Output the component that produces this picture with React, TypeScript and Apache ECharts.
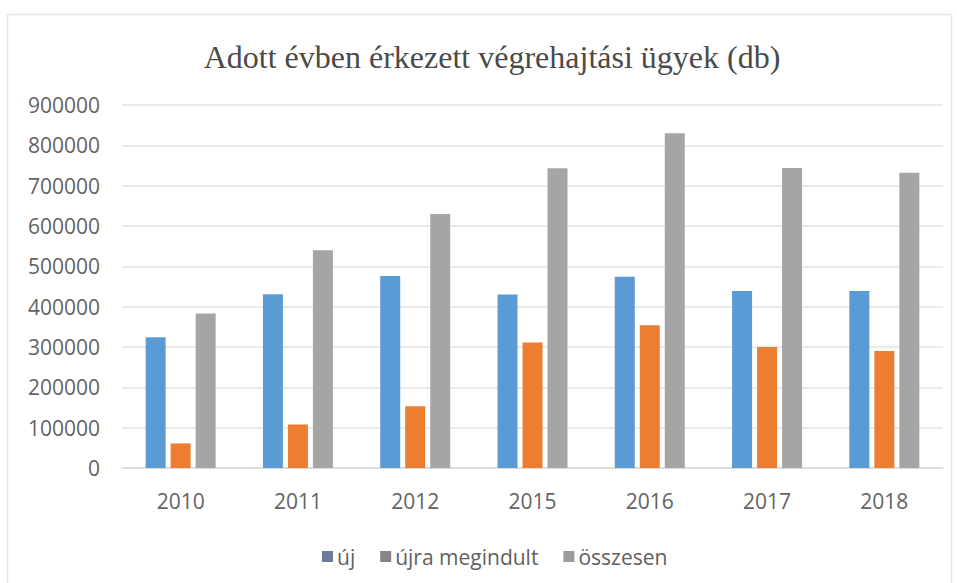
import React, { useEffect, useRef } from "react";
import * as echarts from "echarts";

const categories = ["2010", "2011", "2012", "2015", "2016", "2017", "2018"];
const ujValues = [324000, 431000, 476000, 430000, 474000, 439000, 439000];
const ujraValues = [61000, 108000, 153000, 311000, 354000, 300000, 290000];
const osszesenValues = [383000, 540000, 630000, 743000, 830000, 744000, 732000];
const seriesNames = ["új", "újra megindult", "összesen"];
const titleText = "Adott évben érkezett végrehajtási ügyek (db)";

export default function App() {
  const ref = useRef<HTMLDivElement>(null);
  useEffect(() => {
    if (!ref.current) return;
    const chart = echarts.init(ref.current, null, { renderer: "svg" });
    const labelFont = "'Open Sans', 'Noto Sans', sans-serif";
    chart.setOption({
      animation: false,
      backgroundColor: "#ffffff",
      graphic: [
        {
          type: "rect",
          shape: { x: 7.5, y: 14.5, width: 944, height: 580 },
          style: { fill: "none", stroke: "#e6e6e6", lineWidth: 1.5 },
          silent: true,
        },
      ],
      title: {
        text: titleText,
        left: 487,
        textAlign: "center",
        top: 36,
        textStyle: {
          fontFamily: "'Liberation Serif', 'Times New Roman', serif",
          fontSize: 32,
          fontWeight: "normal",
          color: "#4a4a4a",
        },
      },
      legend: {
        left: 317,
        top: 541,
        itemWidth: 11,
        itemHeight: 11,
        itemGap: 25,
        icon: "rect",
        textStyle: { fontFamily: labelFont, fontSize: 21, color: "#5f5f5f", padding: [0, 0, 0, -1] },
        data: [
          { name: seriesNames[0], itemStyle: { color: "#6b7c9b" } },
          { name: seriesNames[1], itemStyle: { color: "#8b8387" } },
          { name: seriesNames[2], itemStyle: { color: "#9c9c9c" } },
        ],
      },
      grid: { left: 122, right: 14, top: 105, bottom: 115 },
      xAxis: {
        type: "category",
        data: categories,
        axisTick: { show: false },
        axisLine: { lineStyle: { color: "#d9d9d9", width: 1.5 } },
        axisLabel: { fontFamily: labelFont, fontSize: 21, color: "#636363", margin: 22 },
      },
      yAxis: {
        type: "value",
        min: 0,
        max: 900000,
        interval: 100000,
        axisLine: { show: false },
        axisTick: { show: false },
        splitLine: { lineStyle: { color: "#e3e3e3", width: 1.5 } },
        axisLabel: {
          fontFamily: labelFont,
          fontSize: 21,
          color: "#636363",
          margin: 22,
          formatter: (v: number) => String(v),
        },
      },
      series: [
        {
          name: seriesNames[0],
          type: "bar",
          data: ujValues,
          barWidth: 20,
          barGap: "25%",
          itemStyle: { color: "#5b9bd5" },
        },
        {
          name: seriesNames[1],
          type: "bar",
          data: ujraValues,
          barWidth: 20,
          barGap: "25%",
          itemStyle: { color: "#ed7d31" },
        },
        {
          name: seriesNames[2],
          type: "bar",
          data: osszesenValues,
          barWidth: 20,
          barGap: "25%",
          itemStyle: { color: "#a5a5a5" },
        },
      ],
    });
    return () => chart.dispose();
  }, []);
  return (
    <div
      ref={ref}
      style={{ position: "fixed", left: 0, top: 0, width: 957, height: 583 }}
    />
  );
}
